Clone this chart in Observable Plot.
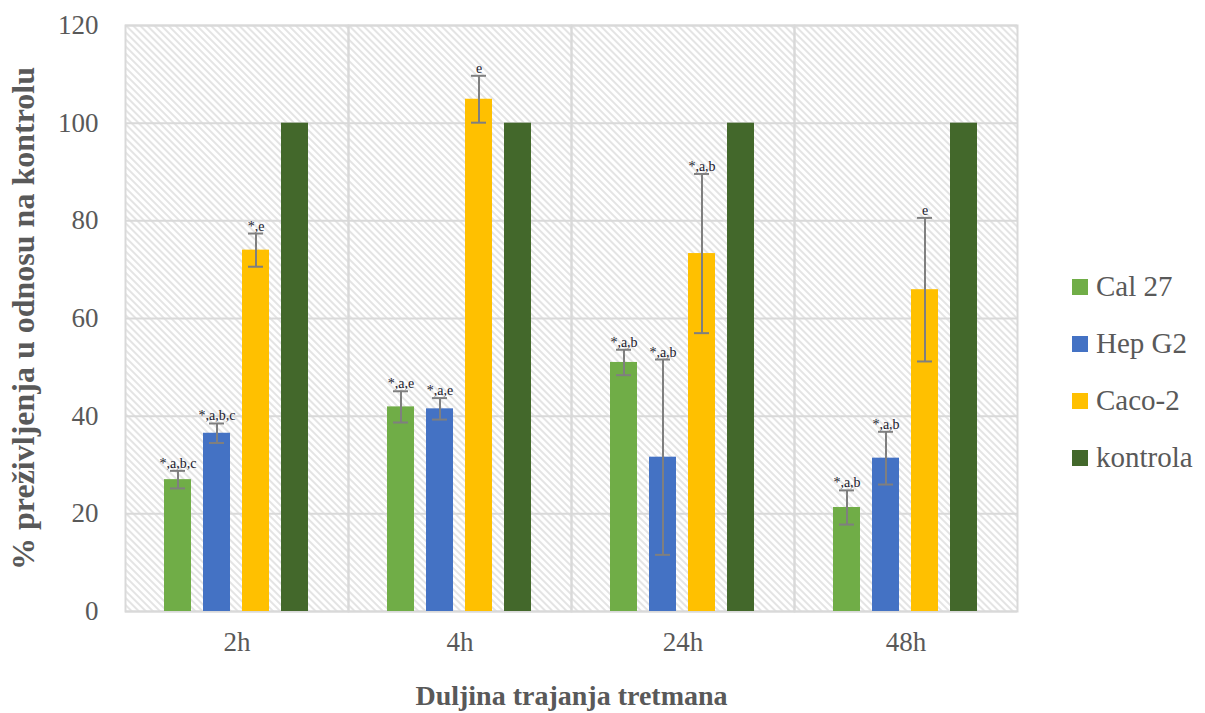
<!DOCTYPE html>
<html><head><meta charset="utf-8">
<script src="https://cdn.jsdelivr.net/npm/d3@7"></script>
<script src="https://cdn.jsdelivr.net/npm/@observablehq/plot@0.6"></script>
<style>
body{margin:0;background:#fff;}
#wrap{position:relative;width:1205px;height:713px;}
#legend{position:absolute;left:1072px;top:258px;font-family:"Liberation Serif",serif;font-size:29px;color:#595959;}
.item{display:flex;align-items:center;height:57px;white-space:nowrap;}
.sw{width:16px;height:16px;margin-right:8px;flex:none;}
svg text{font-family:"Liberation Serif",serif;}
svg g[aria-label="y-axis label"] text{font-weight:bold;font-size:32px;}
svg g[aria-label="fx-axis label"] text{font-weight:bold;font-size:28px;}
</style></head><body><div id="wrap"><div id="chart"></div><div id="legend"></div></div>
<script>
const times = ["2h", "4h", "24h", "48h"];
const series = ["Cal 27", "Hep G2", "Caco-2", "kontrola"];
const colors = ["#70ad47", "#4472c4", "#ffc000", "#43682b"];
const cal27 = [27.0, 41.9, 51.0, 21.3];
const cal27Err = [1.8, 3.2, 2.6, 3.5];
const hepG2 = [36.5, 41.5, 31.6, 31.4];
const hepG2Err = [2.0, 2.2, 20.0, 5.4];
const caco2 = [74.0, 104.9, 73.3, 65.9];
const caco2Err = [3.4, 4.8, 16.3, 14.7];
const kontrola = [100, 100, 100, 100];
const kontrolaErr = [null, null, null, null];
const cal27Labels = ["*,a,b,c", "*,a,e", "*,a,b", "*,a,b"];
const hepG2Labels = ["*,a,b,c", "*,a,e", "*,a,b", "*,a,b"];
const caco2Labels = ["*,e", "e", "*,a,b", "e"];
const kontrolaLabels = ["", "", "", ""];
const yTicks = [0, 20, 40, 60, 80, 100, 120];

const seriesValues = [cal27, hepG2, caco2, kontrola];
const seriesErrs = [cal27Err, hepG2Err, caco2Err, kontrolaErr];
const seriesLabels = [cal27Labels, hepG2Labels, caco2Labels, kontrolaLabels];

const data = [];
series.forEach((s, si) => {
  times.forEach((t, ti) => {
    const v = seriesValues[si][ti];
    const e = seriesErrs[si][ti];
    data.push({series: s, time: t, value: v, err: e,
      lo: e == null ? null : v - e, hi: e == null ? null : v + e,
      label: seriesLabels[si][ti]});
  });
});
const errData = data.filter(d => d.err != null);

const chart = Plot.plot({
  width: 1205,
  height: 713,
  marginLeft: 125,
  marginRight: 188,
  marginTop: 25,
  marginBottom: 102,
  style: {fontFamily: "'Liberation Serif', serif", background: "#fff"},
  fx: {domain: times, padding: 0},
  x: {domain: series, paddingInner: 0.3, paddingOuter: 0.94, axis: null},
  y: {domain: [0, 120]},
  color: {domain: series, range: colors},
  marks: [
    Plot.frame({fill: "url(#hatch)", stroke: null}),
    Plot.gridY(yTicks, {stroke: "#d9d9d9", strokeOpacity: 1, strokeWidth: 2}),
    Plot.frame({stroke: "#d9d9d9", strokeWidth: 2}),
    Plot.axisY({ticks: yTicks, tickSize: 0, tickPadding: 27, fontSize: 27, fill: "#595959",
      label: "% preživljenja u odnosu na kontrolu", labelAnchor: "center", labelArrow: "none", labelOffset: 114}),
    Plot.axisFx({anchor: "bottom", tickSize: 0, tickPadding: 20, fontSize: 27, fill: "#595959",
      label: "Duljina trajanja tretmana", labelAnchor: "center", labelArrow: "none", labelOffset: 93}),
    Plot.barY(data, {fx: "time", x: "series", y: "value", fill: "series"}),
    Plot.ruleX(errData, {fx: "time", x: "series", y1: "lo", y2: "hi", stroke: "#7f7f7f", strokeWidth: 2}),
    Plot.tickY(errData, {fx: "time", x: "series", y: "lo", stroke: "#7f7f7f", strokeWidth: 2, inset: 6}),
    Plot.tickY(errData, {fx: "time", x: "series", y: "hi", stroke: "#7f7f7f", strokeWidth: 2, inset: 6}),
    Plot.text(errData, {fx: "time", x: "series", y: "hi", text: "label", dy: -3, lineAnchor: "bottom",
      fontSize: 14, fill: "#1a1a2e"})
  ]
});

d3.select(chart).insert("defs", ":first-child").html(
  `<pattern id="hatch" width="5" height="5" patternUnits="userSpaceOnUse" patternTransform="rotate(-45)">
     <rect width="5" height="5" fill="#ffffff"/>
     <line x1="1" y1="0" x2="1" y2="5" stroke="#dedede" stroke-width="1.6"/>
   </pattern>`);

document.getElementById("chart").appendChild(chart);

const legend = document.getElementById("legend");
series.forEach((s, i) => {
  const item = document.createElement("div");
  item.className = "item";
  const sw = document.createElement("span");
  sw.className = "sw";
  sw.style.background = colors[i];
  const tx = document.createElement("span");
  tx.textContent = s;
  item.appendChild(sw);
  item.appendChild(tx);
  legend.appendChild(item);
});
</script>
</body></html>
